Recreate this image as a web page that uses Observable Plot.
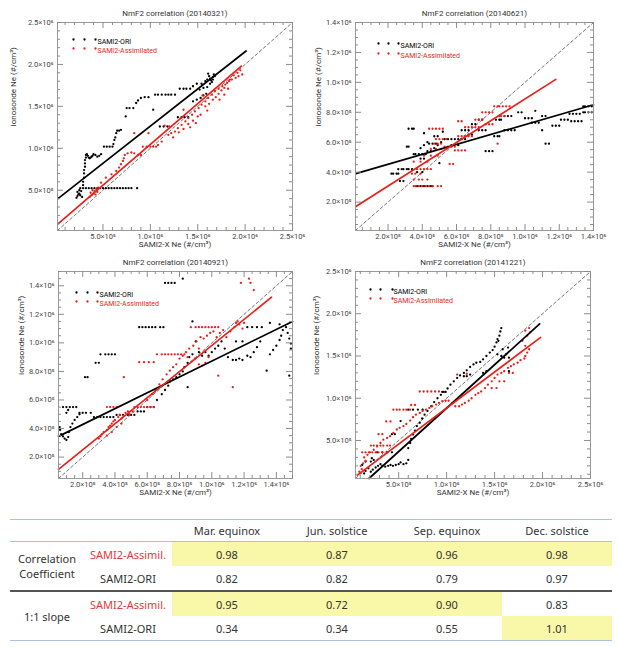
<!DOCTYPE html>
<html>
<head>
<meta charset="utf-8">
<script src="https://cdn.jsdelivr.net/npm/d3@7"></script>
<script src="https://cdn.jsdelivr.net/npm/@observablehq/plot@0.6"></script>
<style>
  html, body { margin: 0; padding: 0; background: #fff; }
  #root { position: relative; width: 620px; height: 647px; overflow: hidden; font-family: Roboto, "Noto Sans", sans-serif; }
  .panel { position: absolute; }
  .panel svg { overflow: visible; }
  #tbl { position: absolute; left: 10px; top: 519px; width: 602px; border-collapse: collapse; font-family: "Noto Sans", sans-serif; font-size: 11px; color: #333; }
  #tbl td, #tbl th { padding: 0; text-align: center; font-weight: normal; }
  #tbl tr.head th { height: 21px; border-top: 1.5px solid #a9c3df; border-bottom: 1.5px solid #a9c3df; }
  #tbl tr.r td { height: 24px; }
  #tbl tr.sep td { border-top: 2px solid #555; }
  #tbl tr.last td { border-bottom: 1.5px solid #a9c3df; }
  #tbl .asm { color: #e03a3a; }
  #tbl .hl { background: #f9f7a8; }
</style>
</head>
<body>
<div id="root"></div>
<script>
// ---------------- data (values in units of 1e5 #/cm^3) ----------------
const RED = "#ea1f1a";

// Panel titles
const titles = ["NmF2 correlation (20140321)", "NmF2 correlation (20140621)", "NmF2 correlation (20140921)", "NmF2 correlation (20141221)"];
const seriesNames = ["SAMI2-ORI", "SAMI2-Assimilated"];
const xTitle = "SAMI2-X Ne (#/cm³)";
const yTitle = "Ionosonde Ne (#/cm³)";

// Major tick values (1e5 units)
const ticksMar = [5, 10, 15, 20, 25];
const ticksJun = [2, 4, 6, 8, 10, 12, 14];
const ticksSep = [2, 4, 6, 8, 10, 12, 14];
const ticksDec = [5, 10, 15, 20, 25];

// 20140321
const marOri = [[2.2,4.1],[2.3,4.3],[2.4,4.5],[2.3,4.8],[2.5,4.6],[2.6,4.4],[2.7,4.9],[2.5,5.0],[2.8,4.2],
 [2.6,5.25],[2.9,5.25],[3.2,5.25],[3.5,5.25],[3.8,5.25],[4.1,5.25],[4.4,5.25],[4.7,5.25],[5.0,5.25],[5.3,5.25],[5.6,5.25],[5.9,5.25],[6.2,5.25],[6.5,5.25],[6.8,5.25],[7.1,5.25],[7.4,5.25],[7.7,5.25],[8.0,5.25],[8.6,5.25],
 [2.9,5.6],[2.9,6.0],[3.0,6.5],[3.0,7.0],[3.0,7.4],[3.1,7.8],[3.1,8.2],[3.1,8.6],[3.2,8.9],[3.2,9.2],
 [3.3,9.3],[3.4,9.1],[3.5,8.9],[3.6,8.8],[3.7,8.9],[3.8,9.0],[3.9,9.1],[4.0,9.3],[4.2,9.2],[4.4,9.0],[4.6,9.1],[4.8,9.3],
 [5.1,10.2],[5.4,10.2],[5.7,10.2],[6.0,10.2],[6.1,10.5],[6.2,11.0],[6.3,11.3],[6.4,11.8],[6.5,12.1],[6.7,12.1],[6.9,12.2],
 [7.4,13.8],[7.5,14.8],[7.8,14.8],[8.2,14.8],[8.5,15.4],[8.7,15.7],[9.0,16.0],[9.4,16.1],[9.8,16.1],[10.3,14.6],
 [10.5,16.4],[10.8,16.4],[11.2,16.4],[11.6,16.4],[11.9,16.4],[12.2,16.4],[12.6,16.4],
 [11.0,12.6],[11.4,12.6],[11.8,12.6],[12.9,13.7],[13.3,13.7],[13.6,13.7],[14.0,13.7],
 [13.1,17.1],[13.5,17.1],[13.8,17.1],[14.2,17.1],[14.5,17.4],[14.9,17.7],[15.4,17.7],[15.8,18.0],
 [14.5,15.6],[14.9,15.8],[15.3,16.0],[15.6,16.3],[15.9,16.5],[15.2,17.0],[15.6,17.2],[16.0,17.3],
 [16.1,18.9],[16.2,18.6],[16.3,18.3],[16.4,18.1],[16.5,17.9],[16.6,18.5],[16.7,18.8],[16.3,17.7],[16.0,18.2],[16.6,18.2],[16.8,18.6]];
const marAsm = [[3.6,4.2],[3.8,4.4],[4.0,4.6],[4.1,4.9],[4.3,5.1],[4.5,5.3],[3.9,5.0],[4.2,4.5],[4.4,4.8],[3.7,4.7],
 [4.8,5.9],[5.3,6.5],[5.9,6.9],[6.4,7.3],[6.7,7.7],[6.9,8.1],[7.1,8.5],[7.2,8.8],[7.3,9.2],[7.6,9.4],[8.0,9.5],[8.3,9.4],[8.7,9.2],[9.0,9.2],
 [9.2,10.2],[9.6,10.2],[10.0,10.2],[10.3,10.2],[10.6,10.2],[10.8,10.4],[11.2,10.8],[8.3,11.8],[9.8,11.8],
 [11.9,11.6],[12.2,11.8],[12.6,12.0],[12.9,12.4],[13.3,12.8],[13.7,13.2],[14.0,13.6],[14.4,14.0],[14.7,14.4],[15.1,14.8],[15.4,15.2],[15.8,15.6],[16.1,16.0],[16.5,16.4],[16.8,16.8],[17.2,17.1],[17.6,17.4],[17.9,17.6],[18.3,18.0],[18.6,18.2],[19.0,18.4],[19.3,18.6],[19.7,18.8],
 [12.0,12.6],[12.4,11.3],[13.0,11.9],[13.5,12.3],[14.0,12.9],[14.2,12.5],[14.8,13.0],[15.0,13.8],[15.3,14.0],[15.8,15.0],[16.2,15.3],[16.6,15.8],[16.9,16.1],[17.2,16.5],[17.5,16.9],[17.8,17.2],[18.1,17.8],[18.4,18.2],[18.8,18.7],[19.2,19.0],[19.5,19.3],[17.3,15.8],[17.8,16.4],[18.2,17.1],[15.5,16.3],[13.2,13.6],[16.0,14.5],[11.5,12.7],[14.5,13.3],[13.5,14.6]];
const marOriFit = [[0.25,4.0],[20.1,21.6]];
const marAsmFit = [[0.25,1.0],[19.6,19.8]];

// 20140621
const junOri = [[3.7,3.06],[3.9,3.06],[4.1,3.06],[4.3,3.06],[4.5,3.06],[4.6,3.06],
 [2.2,3.9],[2.3,3.9],[2.5,3.9],[2.6,3.9],[2.7,3.4],[2.9,3.4],
 [2.6,4.2],[2.8,4.2],[2.9,4.2],[3.1,4.2],[3.2,4.2],[3.4,4.2],[3.1,5.7],[3.2,5.7],[3.2,6.9],[3.4,6.9],[3.5,6.9],
 [3.5,5.2],[3.6,5.2],[3.8,5.2],[4.0,5.2],[4.2,5.2],[4.3,5.4],[4.5,5.4],[4.4,5.9],[4.6,5.9],[4.8,5.9],[3.7,4.0],[4.0,4.0],[3.9,4.9],[4.1,4.9],[5.0,4.6],
 [4.7,6.4],[4.9,6.4],[5.2,6.7],[3.9,5.6],[4.1,5.8],[4.3,6.0],[4.7,5.6],[4.9,5.8],[5.1,6.0],[4.1,6.6],[5.7,5.8],[6.1,5.8],
 [5.3,6.2],[5.5,6.2],[5.7,6.2],[5.9,6.2],[6.1,6.2],[6.3,6.2],[6.5,6.2],[6.3,6.8],[6.5,6.8],[6.7,6.8],[6.9,7.2],[7.1,7.2],[6.7,6.5],[6.9,6.5],
 [7.3,6.8],[7.5,6.8],[7.7,6.8],[7.3,7.5],[7.5,7.5],[7.7,5.4],[7.9,5.4],[8.1,5.4],[8.2,6.4],[8.4,6.4],[8.5,6.4],[8.3,7.5],[8.5,7.5],[8.6,7.5],
 [8.8,7.75],[9.0,7.75],[9.2,7.75],[8.8,6.8],[9.0,6.8],[9.2,6.8],[9.4,6.8],[9.6,8.0],[9.8,8.0],[10.0,7.6],[10.2,7.6],[10.4,7.6],[10.6,8.1],
 [10.4,7.3],[10.6,7.3],[10.8,7.3],[11.0,7.75],[11.2,7.75],[11.2,5.9],[11.4,5.9],[11.0,6.8],[11.6,7.1],[11.8,7.1],[12.0,7.1],
 [12.1,7.5],[12.3,7.5],[12.5,7.5],[12.6,7.9],[12.8,7.9],[13.0,7.9],[13.2,7.9],[12.7,7.4],[12.9,7.4],[13.1,7.4],[13.3,7.4],
 [13.4,8.0],[13.5,8.0],[13.7,8.0],[13.9,8.0],[13.4,8.4],[13.5,8.4],[13.7,8.4],[13.9,8.4]];
const junAsm = [[3.5,3.06],[3.6,3.06],[3.8,3.06],[4.0,3.06],[4.2,3.06],[4.4,3.06],[4.6,3.06],[4.9,3.06],[5.1,3.06],
 [3.5,3.5],[3.8,3.5],[4.0,3.5],[4.3,3.5],[3.4,3.9],[3.6,3.9],[3.9,3.9],[3.7,4.2],[3.9,4.2],[4.1,4.2],[4.3,4.2],[4.5,4.2],
 [3.5,4.7],[3.9,4.7],[4.3,4.7],[4.1,5.1],[4.5,5.1],[4.9,5.1],[4.5,5.55],[4.8,5.55],[5.1,5.55],[4.7,5.9],[4.9,5.9],[5.1,5.9],
 [4.4,6.9],[4.6,6.9],[4.8,6.9],[5.0,6.9],[5.2,6.9],[4.8,6.2],[5.0,6.2],[5.2,6.2],[5.4,6.2],[5.3,5.7],[5.5,5.7],[5.7,5.7],[5.9,5.7],
 [5.6,4.55],[5.8,4.55],[5.9,5.45],[6.1,5.45],[6.3,5.45],[6.5,5.45],[6.1,6.4],[6.3,6.4],[6.5,6.4],[6.7,6.4],[6.9,6.4],
 [6.5,7.0],[6.7,7.0],[6.9,7.0],[7.1,7.0],[7.3,7.0],[7.1,7.5],[7.3,7.5],[7.5,7.5],[7.5,8.0],[7.7,8.0],[7.9,8.0],[8.1,8.0],
 [7.7,7.2],[7.9,7.2],[8.1,7.2],[8.2,8.4],[8.4,8.4],[8.5,8.4],[8.7,8.4],[8.9,8.4],[9.1,8.4],[8.5,7.75],[8.6,7.75],[8.8,7.75],[8.4,5.9],[6.1,7.4],[6.3,7.4]];
const junOriFit = [[0.12,3.9],[14.0,8.5]];
const junAsmFit = [[0.12,1.7],[11.8,10.2]];

// 20140921
const sepOri = [[0.57,4.1],[0.6,3.9],[0.67,3.6],[0.78,3.45],[0.88,3.3],[0.99,3.2],[1.1,3.4],[1.15,3.75],[1.24,4.1],[1.36,4.35],[1.5,4.6],[1.66,4.8],[1.8,5.0],[0.99,5.1],[1.1,5.3],
 [0.78,5.5],[0.99,5.5],[1.2,5.5],[1.4,5.5],[1.6,5.5],[1.8,5.1],[2.0,5.1],[2.2,5.1],[2.5,5.1],
 [2.7,4.8],[2.9,4.8],[3.1,4.8],[3.3,4.8],[3.5,4.8],[3.7,4.8],[3.9,4.8],[4.1,4.95],[4.3,4.95],[4.5,4.95],[4.8,4.95],[5.0,4.95],[5.2,4.95],
 [5.4,5.2],[5.6,5.2],[5.8,5.2],[6.0,5.5],[6.2,5.5],[6.4,5.5],[2.14,7.6],[2.3,7.6],[2.8,8.6],[3.0,8.6],
 [3.1,9.2],[3.4,9.2],[3.6,9.2],[3.8,9.2],[4.0,9.2],
 [5.5,11.1],[5.7,11.1],[5.9,11.1],[6.1,11.1],[6.3,11.1],[6.5,11.1],[6.8,11.1],[7.0,11.1],[7.1,14.2],[7.3,14.2],[7.5,14.2],[7.7,14.2],[8.2,14.5],
 [6.6,6.0],[6.9,6.4],[7.1,6.7],[7.3,7.0],[7.4,7.3],[7.6,7.45],[7.8,7.6],[8.0,7.8],[8.2,8.0],[8.3,8.3],[8.5,6.9],[8.5,8.6],[8.6,9.0],[8.8,9.2],[9.0,10.1],[8.8,11.5],
 [9.2,9.35],[9.4,9.1],[9.6,9.35],[9.8,9.1],[10.0,9.35],[10.2,9.6],[10.4,9.8],[10.6,10.1],[10.8,9.6],[11.0,9.0],[11.3,8.8],[11.5,8.8],[11.7,8.9],[11.9,8.8],[12.2,9.1],[12.4,9.0],[12.6,9.35],[12.8,9.7],[13.0,10.1],[13.4,8.05],
 [13.6,9.2],[13.8,9.5],[14.0,9.8],[14.2,10.2],[14.3,10.5],[14.4,10.9],[14.6,11.1],[14.7,10.7],[14.8,10.3],[14.9,9.95],[14.9,9.6],[14.8,7.7],
 [12.2,11.1],[12.5,11.1],[12.8,11.1],[13.1,11.1],[13.6,11.4],[14.2,11.3],[11.5,10.1],[11.9,10.1]];
const sepAsm = [[3.0,3.3],[3.1,3.45],[3.2,3.6],[3.3,3.75],[3.5,3.9],[3.6,4.1],[3.7,4.2],[3.8,4.35],[3.9,4.5],[4.0,4.6],[4.2,4.8],[4.3,4.95],[4.4,4.7],[4.5,4.9],[4.65,5.1],[4.8,5.2],[4.9,5.0],[5.1,5.2],[3.5,3.5],[3.8,3.75],[4.1,4.1],[4.4,4.35],
 [3.5,5.5],[3.7,5.5],[3.9,5.5],[4.1,5.5],[5.2,5.5],[5.4,5.5],[5.6,5.5],[5.8,5.5],[6.0,5.5],[6.2,5.5],[6.4,5.5],[4.55,7.6],
 [5.5,8.65],[5.8,8.65],[6.1,8.65],[6.4,8.65],[6.6,9.2],[6.9,9.2],[7.1,9.2],[7.3,9.2],[7.5,9.2],[7.7,9.2],[7.9,9.2],[8.1,9.2],[8.3,9.2],
 [8.7,11.1],[9.0,11.1],[9.2,11.1],[9.4,11.1],[9.6,11.1],[9.8,11.1],[10.0,11.1],[10.2,11.1],[10.4,11.1],
 [11.8,14.2],[12.4,14.2],[12.3,14.5],[12.6,13.7],[11.3,6.9],[10.4,7.7],
 [6.0,6.0],[6.3,6.4],[6.5,6.7],[6.75,7.1],[6.95,7.45],[7.2,7.8],[7.4,8.05],[7.6,8.3],[7.8,8.5],[8.0,8.9],[8.2,9.1],[8.4,9.35],[8.5,9.0],[8.6,9.6],[8.85,9.8],[9.05,10.1],[9.2,9.6],[9.3,10.4],[9.5,10.3],[9.7,10.5],[9.9,10.7],[10.1,10.8],[10.3,10.4],[10.5,10.7],[10.7,10.9],[10.9,10.4],[11.15,10.8],[11.4,11.1],[11.5,11.4],[11.6,11.5],[11.7,11.3],[11.9,11.0],[12.0,11.4],
 [9.6,8.6],[9.8,9.0],[9.4,8.4],[8.95,8.9],[9.2,8.5]];
const sepOriFit = [[0.5,3.45],[15.0,11.5]];
const sepAsmFit = [[0.5,1.14],[13.7,13.2]];

// 20141221
const decOri = [[1.4,1.1],[1.55,1.4],[1.85,1.7],[2.1,1.3],[2.3,1.55],[2.6,1.8],[2.85,2.0],[3.1,2.2],[3.3,2.0],[3.6,1.9],[3.9,2.0],[4.15,2.1],[4.4,2.0],[4.7,2.1],[5.0,2.2],[5.2,2.4],[5.5,2.2],[5.8,2.3],[6.0,2.7],[2.1,2.5],[2.4,2.7],[1.2,2.1],[1.55,2.5],[2.2,2.9],
 [2.75,3.6],[3.3,3.6],[3.8,3.6],[4.3,3.6],[4.3,5.75],[4.6,5.75],[5.2,7.3],
 [6.0,4.1],[6.2,4.7],[6.3,5.2],[6.5,5.7],[6.7,6.15],[6.9,6.7],[7.2,7.1],[7.45,7.6],[7.7,8.05],[8.0,8.5],[8.4,9.05],[8.7,9.55],[9.05,10.0],[9.4,10.4],[9.7,10.75],[10.1,11.15],[10.4,11.6],[10.75,12.0],[11.1,12.4],[11.4,12.7],[11.8,13.0],[12.1,13.3],[12.45,13.7],[12.8,14.0],[13.1,14.2],[13.5,14.3],[13.8,14.6],[14.15,15.0],[14.5,15.4],[14.8,15.7],[15.0,16.1],[15.2,16.6],[15.3,17.0],[15.5,17.4],[15.6,17.9],[15.7,18.3],[15.4,16.8],
 [6.0,8.65],[6.5,8.65],[7.0,8.65],[7.5,8.65],[9.55,10.75],[9.9,10.75],[11.8,12.6],[12.1,12.6],[12.45,12.8],
 [15.3,15.2],[15.7,15.0],[16.0,14.8],[16.2,15.2],[16.5,14.8],[15.85,15.8],[16.4,16.0],[13.8,13.0],[14.15,13.2],[16.5,13.2]];
const decAsm = [[0.9,1.3],[1.15,1.6],[1.05,2.0],[1.3,2.3],[1.55,2.6],[1.4,3.0],[1.75,3.3],[2.0,3.6],
 [1.2,3.6],[1.55,3.6],[1.9,3.6],[2.25,3.6],[2.6,3.6],[2.9,3.6],[3.3,3.6],[2.1,4.4],[2.4,4.4],[2.75,4.4],[3.1,4.4],[3.4,4.4],[3.8,4.4],[4.1,4.4],
 [2.9,5.75],[3.3,5.75],[3.7,7.25],[4.15,7.25],[4.45,8.65],[4.8,8.65],[5.1,8.65],[5.5,8.65],[5.8,8.65],[6.2,8.65],[6.3,9.2],[6.7,9.2],
 [7.2,10.8],[7.6,10.8],[8.0,10.8],[8.4,10.8],[8.8,10.8],[9.2,10.8],[11.1,12.8],[12.1,12.9],
 [2.4,3.9],[2.75,4.3],[3.1,4.7],[3.4,5.1],[3.8,5.3],[4.1,5.5],[4.45,5.9],[4.8,6.3],[5.1,6.5],[5.5,6.7],[5.8,6.95],[6.2,7.35],[6.5,7.75],[6.8,8.05],[7.2,8.25],[7.5,8.5],[7.85,8.65],[8.2,8.85],[8.5,9.05],[8.9,9.25],[9.2,9.45],[9.55,9.65],[9.9,9.7],[10.2,9.7],[10.6,9.45],[10.9,9.05],[11.3,9.05],[11.6,9.25],[11.9,9.45],[12.3,9.7],[12.6,10.0],[13.0,10.4],[13.3,10.6],[13.6,10.8],[14.0,11.2],[14.3,11.6],[14.7,12.0],[15.0,12.4],[15.3,12.8],[15.7,13.0],[16.0,13.2],[16.4,13.6],[16.7,13.8],[17.0,14.0],[17.4,14.2],[17.7,14.5],[18.1,14.7],[18.2,15.0],[18.4,15.4],[18.6,15.8],[18.2,16.2],[17.9,16.8],[18.4,17.4],[18.2,18.0],[18.6,18.3],[18.7,17.8],
 [15.5,12.0],[16.0,12.0],[16.5,13.0],[16.9,13.0],[15.2,11.2],[14.7,11.2]];
const decOriFit = [[1.9,0.5],[19.7,18.8]];
const decAsmFit = [[0.7,0.9],[19.8,17.2]];

// Table
const seasons = ["Mar. equinox", "Jun. solstice", "Sep. equinox", "Dec. solstice"];
const corrAsm = [0.98, 0.87, 0.96, 0.98];
const corrOri = [0.82, 0.82, 0.79, 0.97];
const slopeAsm = [0.95, 0.72, 0.90, 0.83];
const slopeOri = [0.34, 0.34, 0.55, 1.01];

// ---------------- drawing ----------------
const SUP = {"0":"⁰","1":"¹","2":"²","3":"³","4":"⁴","5":"⁵","6":"⁶","7":"⁷","8":"⁸","9":"⁹","-":"⁻"};
function sci(v) {
  const e = Math.floor(Math.log10(v) + 1e-9);
  const m = v / Math.pow(10, e);
  return m.toFixed(1) + "×10" + String(e).split("").map(c => SUP[c]).join("");
}
const U = 1e5;
const toRows = arr => arr.map(([x, y]) => ({x: x * U, y: y * U}));

function panel(cfg) {
  const {title, domain, major, minorStep, ori, asm, oriFit, asmFit, left, top, width, height, m, yLabelDx, leg} = cfg;
  const fw = width - m.left - m.right, fh = height - m.top - m.bottom;
  const majors = major.map(v => v * U);
  const minors = d3.range(minorStep, domain[1] / U + 1e-9, minorStep).map(v => +(v * U).toFixed(0))
    .filter(v => v > domain[0] && v <= domain[1] && !majors.some(M => Math.abs(M - v) < 1));
  const diag = [{x: domain[0], y: domain[0]}, {x: domain[1], y: domain[1]}];
  const tc = "#8c8c8c";
  const plot = Plot.plot({
    width, height,
    marginLeft: m.left, marginRight: m.right, marginTop: m.top, marginBottom: m.bottom,
    style: {fontFamily: "Roboto, sans-serif", background: "transparent", overflow: "visible"},
    x: {domain},
    y: {domain},
    marks: [
      Plot.line(diag, {x: "x", y: "y", stroke: "#666", strokeWidth: 0.9, strokeDasharray: "3,2.5"}),
      Plot.dot(toRows(ori), {x: "x", y: "y", r: 1.15, fill: "black"}),
      Plot.dot(toRows(asm), {x: "x", y: "y", r: 1.15, fill: RED}),
      Plot.line(toRows(oriFit), {x: "x", y: "y", stroke: "black", strokeWidth: 1.7}),
      Plot.line(toRows(asmFit), {x: "x", y: "y", stroke: RED, strokeWidth: 1.7}),
      Plot.frame({stroke: "#9a9a9a", strokeWidth: 1}),
      // inward ticks on all four sides
      Plot.tickX(majors, {x: d => d, stroke: tc, insetTop: fh - 6}),
      Plot.tickX(majors, {x: d => d, stroke: tc, insetBottom: fh - 6}),
      Plot.tickX(minors, {x: d => d, stroke: tc, insetTop: fh - 3}),
      Plot.tickX(minors, {x: d => d, stroke: tc, insetBottom: fh - 3}),
      Plot.tickY(majors, {y: d => d, stroke: tc, insetRight: fw - 6}),
      Plot.tickY(majors, {y: d => d, stroke: tc, insetLeft: fw - 6}),
      Plot.tickY(minors, {y: d => d, stroke: tc, insetRight: fw - 3}),
      Plot.tickY(minors, {y: d => d, stroke: tc, insetLeft: fw - 3}),
      Plot.axisX({ticks: majors, tickSize: 0, tickPadding: 3, tickFormat: sci, fontSize: 7.5, color: "#444", label: null}),
      Plot.axisY({ticks: majors, tickSize: 0, tickPadding: 4, tickFormat: sci, fontSize: 7.5, color: "#444", label: null}),
      Plot.text([xTitle], {text: d => d, frameAnchor: "bottom", dy: 16, fontSize: 8, fill: "#333"}),
      Plot.text([yTitle], {text: d => d, frameAnchor: "left", dx: yLabelDx, rotate: -90, fontSize: 8, fill: "#333"}),
      Plot.text([title], {text: d => d, frameAnchor: "top", dy: -12, fontSize: 8, fill: "#333"}),
      // legend
      ...[0, 1].flatMap(i => {
        const c = i === 0 ? "black" : RED, dy = leg.dy[i];
        return [
          ...leg.dots.map(dx => Plot.dot([0], {frameAnchor: "top-left", dx, dy, r: 1.15, fill: c})),
          Plot.text([seriesNames[i]], {text: d => d, frameAnchor: "top-left", dx: leg.tx, dy, textAnchor: "start", fontSize: 7, fill: c})
        ];
      })
    ]
  });
  const wrap = document.createElement("div");
  wrap.className = "panel";
  wrap.style.left = left + "px";
  wrap.style.top = top + "px";
  wrap.appendChild(plot);
  return wrap;
}

const root = document.getElementById("root");
root.appendChild(panel({title: titles[0], domain: [0.2 * U, 25 * U], major: ticksMar, minorStep: 1, ori: marOri, asm: marAsm, oriFit: marOriFit, asmFit: marAsmFit,
  left: 0, top: 0, width: 310, height: 252, m: {left: 57, right: 18, top: 22, bottom: 22}, yLabelDx: -44,
  leg: {dots: [16, 27, 38], tx: 40, dy: [17, 26]}}));
root.appendChild(panel({title: titles[1], domain: [0.1 * U, 14 * U], major: ticksJun, minorStep: 0.5, ori: junOri, asm: junAsm, oriFit: junOriFit, asmFit: junAsmFit,
  left: 310, top: 0, width: 310, height: 252, m: {left: 45, right: 27, top: 22, bottom: 22}, yLabelDx: -37,
  leg: {dots: [23, 33, 43], tx: 45, dy: [21, 31]}}));
root.appendChild(panel({title: titles[2], domain: [0.5 * U, 15 * U], major: ticksSep, minorStep: 0.5, ori: sepOri, asm: sepAsm, oriFit: sepOriFit, asmFit: sepAsmFit,
  left: 0, top: 250, width: 310, height: 255, m: {left: 58, right: 18, top: 21, bottom: 27}, yLabelDx: -37,
  leg: {dots: [18, 29, 39], tx: 41, dy: [21, 30]}}));
root.appendChild(panel({title: titles[3], domain: [0.5 * U, 25 * U], major: ticksDec, minorStep: 1, ori: decOri, asm: decAsm, oriFit: decOriFit, asmFit: decAsmFit,
  left: 310, top: 250, width: 310, height: 255, m: {left: 45, right: 30, top: 21, bottom: 27}, yLabelDx: -39,
  leg: {dots: [15, 25, 37], tx: 38, dy: [18, 27]}}));

// table: highlight the better value (higher correlation, slope closest to 1)
const fmt = v => v.toFixed(2);
const corrBestAsm = corrAsm.map((v, i) => v >= corrOri[i]);
const slopeBestAsm = slopeAsm.map((v, i) => Math.abs(v - 1) <= Math.abs(slopeOri[i] - 1));
const colW = [74, 88, 110, 110, 110, 110];
let html = `<colgroup>${colW.map(w => `<col style="width:${w}px">`).join("")}</colgroup>`;
html += `<tr class="head"><th></th><th></th>${seasons.map(s => `<th>${s}</th>`).join("")}</tr>`;
html += `<tr class="r"><td rowspan="2">Correlation<br>Coefficient</td><td class="asm">SAMI2-Assimil.</td>${corrAsm.map((v, i) => `<td class="${corrBestAsm[i] ? "hl" : ""}">${fmt(v)}</td>`).join("")}</tr>`;
html += `<tr class="r"><td>SAMI2-ORI</td>${corrOri.map((v, i) => `<td class="${!corrBestAsm[i] ? "hl" : ""}">${fmt(v)}</td>`).join("")}</tr>`;
html += `<tr class="r sep"><td rowspan="2" style="border-bottom:1.5px solid #a9c3df">1:1 slope</td><td class="asm">SAMI2-Assimil.</td>${slopeAsm.map((v, i) => `<td class="${slopeBestAsm[i] ? "hl" : ""}">${fmt(v)}</td>`).join("")}</tr>`;
html += `<tr class="r last"><td>SAMI2-ORI</td>${slopeOri.map((v, i) => `<td class="${!slopeBestAsm[i] ? "hl" : ""}">${fmt(v)}</td>`).join("")}</tr>`;
const tbl = document.createElement("table");
tbl.id = "tbl";
tbl.innerHTML = html;
root.appendChild(tbl);
</script>
</body>
</html>
